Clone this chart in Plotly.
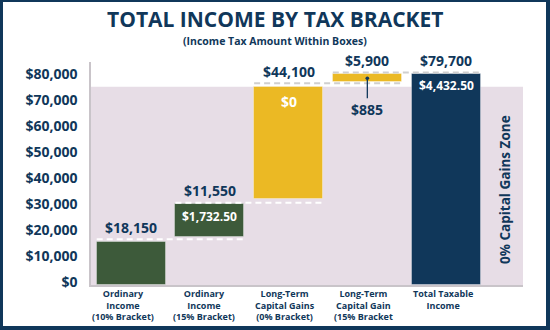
import plotly.graph_objects as go

# ---------------- data ----------------
categories = ["Ordinary<br>Income<br>(10% Bracket)",
              "Ordinary<br>Income<br>(15% Bracket)",
              "Long-Term<br>Capital Gains<br>(0% Bracket)",
              "Long-Term<br>Capital Gain<br>(15% Bracket",
              "Total Taxable<br>Income"]
income_labels = ["$18,150", "$11,550", "$44,100", "$5,900", "$79,700"]
tax_labels = ["", "$1,732.50", "$0", "$885", "$4,432.50"]
# bar extents as drawn in the picture (illustrative stacking with gaps)
bar_base = [0, 18600, 33000, 78100, 0]
bar_top = [16700, 31100, 76400, 81200, 81300]
# dashed guide levels (top of each step, spans that bar and the next)
dash_levels = [17600, 31700, 77700, 81900]
zone_top = 76400
zone_label = "0% Capital Gains Zone"
y_tick_vals = [0, 10000, 20000, 30000, 40000, 50000, 60000, 70000, 80000]
y_tick_text = ["$0", "$10,000", "$20,000", "$30,000", "$40,000",
               "$50,000", "$60,000", "$70,000", "$80,000"]
title = "TOTAL INCOME BY TAX BRACKET"
subtitle = "(Income Tax Amount Within Boxes)"

# ---------------- style ----------------
NAVY = "#10375a"
GREEN = "#3d5a3a"
GOLD = "#ebb924"
PINK = "#e7dde6"
AXIS = "#c9c4c9"
FONT = "Open Sans"
bar_colors = [GREEN, GREEN, GOLD, GOLD, NAVY]
bw = 0.877
xs = list(range(len(categories)))

fig = go.Figure()

fig.add_trace(go.Bar(
    x=xs, y=[t - b for t, b in zip(bar_top, bar_base)], base=bar_base,
    width=bw, marker=dict(color=bar_colors,
                          line=dict(color="rgba(255,255,255,0.35)", width=1)),
    hoverinfo="skip", showlegend=False))

dash_colors = ["#ffffff", "#ffffff", "#cfcfcf", "#cfcfcf"]
for k, lvl in enumerate(dash_levels):
    fig.add_trace(go.Scatter(
        x=[xs[k] - bw / 2, xs[k + 1] + bw / 2], y=[lvl, lvl], mode="lines",
        line=dict(color=dash_colors[k], width=2, dash="6px,4px"),
        hoverinfo="skip", showlegend=False))

shapes = [
    dict(type="rect", xref="paper", yref="paper", x0=-88 / 432, x1=(546 - 91) / 432,
         y0=-(326 - 285) / 223, y1=(285 - 2) / 223, fillcolor="white",
         line=dict(width=0), layer="below"),
    dict(type="rect", xref="x domain", yref="y", x0=0, x1=1, y0=0, y1=zone_top,
         fillcolor=PINK, line=dict(width=0), layer="below"),
]

ann = []
for k in range(len(xs)):
    lvl = dash_levels[k] if k < len(dash_levels) else dash_levels[-1]
    ann.append(dict(x=xs[k], y=lvl, text=income_labels[k], showarrow=False,
                    xanchor="center", yanchor="middle", yshift=12,
                    font=dict(family=FONT, size=14, color=NAVY, weight="bold")))
inside = {1: (bar_top[1], 12, -12), 2: (bar_top[2], 14, -15), 4: (bar_top[4], 12, -12)}
for k, (yy, sz, sh) in inside.items():
    ann.append(dict(x=xs[k], y=yy, text=tax_labels[k], showarrow=False,
                    xanchor="center", yanchor="middle", yshift=sh,
                    font=dict(family=FONT, size=sz, color="white", weight="bold")))
ann.append(dict(x=xs[3], y=(bar_base[3] + bar_top[3]) / 2, text=tax_labels[3],
                showarrow=True, arrowhead=6, arrowsize=0.7, arrowwidth=1.3,
                arrowcolor=NAVY, ax=0, ay=31,
                font=dict(family=FONT, size=14, color=NAVY, weight="bold")))
xshift = [-8, -6, -4, -4, -3]
for k, c in enumerate(categories):
    ann.append(dict(x=xs[k], y=0, yref="paper", text=c, showarrow=False,
                    xanchor="center", yanchor="top", yshift=0, xshift=xshift[k],
                    font=dict(family=FONT, size=9, color=NAVY, weight="bold")))
ann.append(dict(x=(505 - 91) / 432, xref="paper", y=(285 - 190) / 223, yref="paper",
                text=zone_label, textangle=-90, showarrow=False,
                xanchor="center", yanchor="middle",
                font=dict(family=FONT, size=13.5, color=NAVY, weight="bold")))
ann.append(dict(x=(275 - 91) / 432, xref="paper", y=(285 - 18.5) / 223, yref="paper",
                text=title, showarrow=False, xanchor="center", yanchor="middle",
                font=dict(family=FONT, size=21, color=NAVY, weight="bold")))
ann.append(dict(x=(275 - 91) / 432, xref="paper", y=(285 - 41) / 223, yref="paper",
                text=subtitle, showarrow=False, xanchor="center", yanchor="middle",
                font=dict(family=FONT, size=10.5, color=NAVY, weight="bold")))

fig.update_layout(
    width=550, height=330,
    margin=dict(l=91, r=27, t=62, b=45),
    paper_bgcolor=NAVY, plot_bgcolor="white",
    shapes=shapes, annotations=ann, bargap=0,
    xaxis=dict(range=[-0.511, 4.978], showgrid=False, zeroline=False,
               showticklabels=False, showline=True, linecolor=AXIS, linewidth=2,
               fixedrange=True),
    yaxis=dict(range=[0, 85900], tickvals=y_tick_vals, ticktext=y_tick_text,
               showgrid=False, zeroline=False, showline=True, linecolor=AXIS,
               linewidth=1.5, ticklabelstandoff=9, ticklabelshift=-3,
               tickfont=dict(family=FONT, size=14, color=NAVY, weight="bold"),
               fixedrange=True),
)

fig.write_html("out.html")
